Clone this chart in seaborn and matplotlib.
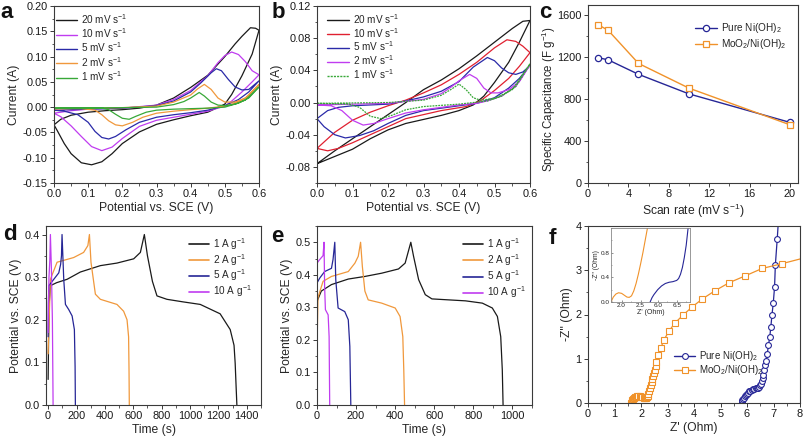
import numpy as np
import matplotlib
matplotlib.use('Agg')
import matplotlib.pyplot as plt
import seaborn as sns
from matplotlib.ticker import MultipleLocator, FixedLocator
from matplotlib.lines import Line2D

sns.set_style('ticks')
plt.rcParams['font.family'] = ['Liberation Sans', 'DejaVu Sans']
plt.rcParams['mathtext.fontset'] = 'custom'
plt.rcParams['mathtext.rm'] = 'Liberation Sans'
plt.rcParams['mathtext.it'] = 'Liberation Sans:italic'
plt.rcParams['mathtext.bf'] = 'Liberation Sans:bold'
plt.rcParams['mathtext.default'] = 'regular'

# ---------------- data: panel a (CV, pure Ni(OH)2) ----------------
a20_x = [0.00,0.02,0.05,0.10,0.15,0.20,0.25,0.30,0.35,0.40,0.45,0.50,0.53,0.55,0.575,0.59,0.60,
         0.58,0.55,0.52,0.50,0.45,0.40,0.35,0.30,0.25,0.20,0.17,0.14,0.11,0.08,0.05,0.03,0.01,0.00]
a20_y = [-0.035,-0.024,-0.016,-0.010,-0.007,-0.005,-0.002,0.004,0.018,0.039,0.063,0.100,0.125,0.140,0.157,0.156,0.152,
         0.105,0.062,0.025,0.006,-0.010,-0.017,-0.025,-0.034,-0.049,-0.072,-0.092,-0.108,-0.114,-0.110,-0.092,-0.072,-0.047,-0.035]
a10_x = [0.00,0.05,0.10,0.20,0.30,0.35,0.40,0.45,0.48,0.50,0.52,0.54,0.56,0.58,0.60,
         0.58,0.55,0.52,0.50,0.45,0.40,0.35,0.30,0.25,0.20,0.17,0.14,0.11,0.08,0.05,0.02,0.00]
a10_y = [-0.012,-0.007,-0.004,-0.002,0.004,0.015,0.033,0.062,0.088,0.102,0.109,0.104,0.090,0.072,0.064,
         0.050,0.030,0.012,0.002,-0.008,-0.014,-0.020,-0.026,-0.038,-0.062,-0.079,-0.086,-0.078,-0.058,-0.037,-0.019,-0.012]
a5_x = [0.00,0.10,0.20,0.30,0.35,0.40,0.43,0.46,0.475,0.49,0.51,0.53,0.55,0.57,0.60,
        0.57,0.54,0.50,0.45,0.40,0.35,0.30,0.25,0.21,0.18,0.16,0.14,0.12,0.10,0.07,0.03,0.00]
a5_y = [-0.006,-0.004,-0.002,0.003,0.012,0.030,0.048,0.068,0.076,0.072,0.055,0.040,0.034,0.035,0.052,
        0.030,0.015,0.003,-0.006,-0.011,-0.015,-0.020,-0.030,-0.045,-0.058,-0.063,-0.060,-0.048,-0.030,-0.015,-0.008,-0.006]
a2_x = [0.00,0.10,0.20,0.30,0.35,0.40,0.42,0.44,0.46,0.48,0.50,0.53,0.56,0.60,
        0.57,0.54,0.50,0.45,0.40,0.35,0.30,0.26,0.23,0.20,0.18,0.16,0.14,0.12,0.08,0.00]
a2_y = [-0.003,-0.002,-0.001,0.002,0.010,0.024,0.036,0.045,0.035,0.018,0.010,0.010,0.018,0.045,
        0.022,0.010,0.002,-0.002,-0.005,-0.008,-0.012,-0.020,-0.030,-0.037,-0.035,-0.027,-0.015,-0.006,-0.003,-0.003]
a1_x = [0.00,0.20,0.30,0.35,0.38,0.40,0.425,0.44,0.46,0.48,0.50,0.53,0.56,0.60,
        0.57,0.54,0.50,0.45,0.40,0.35,0.30,0.27,0.24,0.22,0.20,0.18,0.16,0.14,0.00]
a1_y = [-0.002,-0.001,0.000,0.005,0.011,0.018,0.029,0.022,0.010,0.004,0.003,0.006,0.014,0.040,
        0.018,0.008,0.000,-0.002,-0.003,-0.004,-0.006,-0.010,-0.018,-0.024,-0.022,-0.014,-0.005,-0.002,-0.002]

# ---------------- data: panel b (CV, MoO2/Ni(OH)2) ----------------
b20_x = [0.00,0.05,0.10,0.15,0.20,0.25,0.30,0.35,0.40,0.45,0.50,0.55,0.58,0.60,
         0.57,0.54,0.50,0.47,0.44,0.40,0.35,0.30,0.25,0.20,0.15,0.10,0.05,0.00]
b20_y = [-0.076,-0.060,-0.045,-0.030,-0.015,0.000,0.016,0.028,0.042,0.058,0.075,0.092,0.101,0.102,
         0.075,0.050,0.025,0.008,-0.003,-0.010,-0.016,-0.021,-0.026,-0.034,-0.045,-0.058,-0.067,-0.076]
b10_x = [0.00,0.05,0.10,0.15,0.20,0.25,0.30,0.35,0.40,0.45,0.50,0.535,0.56,0.58,0.60,
         0.57,0.54,0.50,0.46,0.42,0.35,0.30,0.25,0.20,0.15,0.10,0.06,0.03,0.00]
b10_y = [-0.057,-0.037,-0.022,-0.012,-0.004,0.003,0.012,0.022,0.035,0.050,0.068,0.078,0.076,0.070,0.062,
         0.045,0.030,0.015,0.002,-0.005,-0.010,-0.015,-0.020,-0.030,-0.040,-0.050,-0.057,-0.060,-0.057]
b5_x = [0.00,0.03,0.06,0.10,0.20,0.25,0.30,0.35,0.40,0.44,0.48,0.50,0.52,0.54,0.56,0.58,0.60,
        0.57,0.54,0.50,0.45,0.40,0.35,0.30,0.25,0.20,0.16,0.12,0.08,0.05,0.02,0.00]
b5_y = [-0.020,-0.010,-0.006,-0.004,-0.002,0.002,0.007,0.014,0.026,0.044,0.056,0.052,0.043,0.037,0.035,0.038,0.046,
        0.030,0.018,0.006,-0.001,-0.004,-0.007,-0.010,-0.016,-0.026,-0.035,-0.041,-0.044,-0.040,-0.030,-0.020]
b2_x = [0.00,0.20,0.30,0.35,0.38,0.40,0.43,0.45,0.47,0.49,0.51,0.54,0.57,0.60,
        0.56,0.52,0.48,0.45,0.40,0.35,0.30,0.25,0.20,0.16,0.13,0.10,0.07,0.04,0.00]
b2_y = [-0.003,-0.001,0.004,0.011,0.020,0.027,0.035,0.030,0.018,0.012,0.012,0.016,0.026,0.047,
        0.020,0.008,0.002,-0.001,-0.003,-0.006,-0.009,-0.013,-0.020,-0.026,-0.028,-0.022,-0.010,-0.004,-0.003]
b1_x = [0.00,0.20,0.30,0.35,0.38,0.40,0.42,0.44,0.46,0.50,0.55,0.60,
        0.56,0.52,0.48,0.40,0.30,0.25,0.21,0.18,0.15,0.12,0.09,0.00]
b1_y = [-0.001,0.000,0.003,0.009,0.017,0.023,0.016,0.006,0.003,0.005,0.016,0.048,
        0.020,0.008,0.002,-0.002,-0.005,-0.009,-0.016,-0.020,-0.017,-0.006,-0.002,-0.001]

cv_labels = ['20 mV s$^{-1}$', '10 mV s$^{-1}$', '5 mV s$^{-1}$', '2 mV s$^{-1}$', '1 mV s$^{-1}$']

# ---------------- data: panel c (specific capacitance) ----------------
scan_rate = [1, 2, 5, 10, 20]
cap_pure = [1197, 1176, 1038, 851, 579]
cap_mo = [1512, 1458, 1142, 906, 556]

# ---------------- data: panel d (GCD pure) ----------------
d1_t = [0,3,8,16,60,134,227,368,485,603,650,678, 700,735,767,837,950,1072,1212,1283,1310,1318,1325,1330]
d1_v = [0.06,0.15,0.24,0.28,0.287,0.295,0.312,0.327,0.333,0.343,0.358,0.400, 0.350,0.290,0.256,0.248,0.242,0.236,0.214,0.177,0.140,0.098,0.040,0.000]
d2_t = [0,3,7,16,63,180,250,280,291, 302,333,368,485,532,556,567,570,572]
d2_v = [0.12,0.16,0.20,0.295,0.335,0.346,0.358,0.374,0.400, 0.335,0.260,0.248,0.236,0.220,0.200,0.160,0.083,0.000]
d5_t = [0,2,5,40,75,88,94,98, 110,122,145,169,185,190,192]
d5_v = [0.16,0.24,0.280,0.295,0.310,0.330,0.350,0.400, 0.295,0.236,0.224,0.209,0.177,0.090,0.000]
d10_t = [0,3,6,12,16, 23,30,33,35]
d10_v = [0.17,0.25,0.30,0.340,0.400, 0.320,0.200,0.080,0.000]

# ---------------- data: panel e (GCD MoO2/Ni(OH)2) ----------------
e1_t = [0,22,74,160,245,331,417,451,480, 494,520,554,588,760,846,897,923,940,948,952]
e1_v = [0.318,0.350,0.370,0.387,0.395,0.405,0.418,0.436,0.500, 0.457,0.385,0.339,0.326,0.320,0.313,0.298,0.272,0.210,0.108,0.000]
e2_t = [0,5,31,74,160,194,211,223, 232,245,262,331,400,425,439,444,448]
e2_v = [0.17,0.330,0.380,0.395,0.410,0.436,0.457,0.500, 0.426,0.350,0.323,0.313,0.298,0.272,0.210,0.108,0.000]
e5_t = [0,14,39,74,82,91, 96,108,142,160,168,173]
e5_v = [0.375,0.390,0.410,0.420,0.447,0.500, 0.385,0.298,0.287,0.262,0.180,0.000]
e10_t = [0,14,31,36, 39,43,57,62,65]
e10_v = [0.436,0.447,0.459,0.500, 0.364,0.293,0.277,0.210,0.000]

gcd_labels = ['1 A g$^{-1}$', '2 A g$^{-1}$', '5 A g$^{-1}$', '10 A g$^{-1}$']

# ---------------- data: panel f (Nyquist) ----------------
ni_zre = [5.80,5.81,5.83,5.85,5.88,5.91,5.95,5.99,6.03,6.08,6.13,6.18,6.23,6.28,6.33,6.38,6.43,6.47,
          6.50,6.53,6.56,6.59,6.62,6.65,6.68,6.71,6.76,6.81,6.86,6.90,6.94,6.99,7.04,7.07,7.14,7.20]
ni_zim = [0.00,0.03,0.06,0.09,0.12,0.15,0.18,0.21,0.23,0.26,0.28,0.30,0.31,0.32,0.33,0.34,0.35,0.37,
          0.40,0.44,0.49,0.56,0.64,0.74,0.85,0.96,1.10,1.30,1.50,1.72,1.98,2.25,2.62,3.12,3.70,4.25]
mo_zre = [1.64,1.65,1.67,1.70,1.73,1.77,1.81,1.85,1.90,1.95,2.00,2.05,2.10,2.15,2.19,2.22,2.25,2.28,2.31,
          2.34,2.37,2.40,2.43,2.46,2.49,2.52,2.55,2.58,2.64,2.75,2.87,3.05,3.27,3.59,3.93,4.31,4.80,5.33,
          5.92,6.57,7.33,8.10]
mo_zim = [0.00,0.03,0.06,0.09,0.11,0.13,0.14,0.15,0.15,0.15,0.14,0.13,0.12,0.11,0.11,0.13,0.16,0.21,0.27,
          0.33,0.40,0.47,0.54,0.61,0.68,0.75,0.83,0.93,1.08,1.25,1.43,1.62,1.80,1.99,2.17,2.35,2.54,2.72,
          2.87,3.04,3.15,3.27]
ins_mo_zre = [1.72,1.78,1.85,1.92,2.00,2.07,2.14,2.20,2.26,2.32,2.38,2.44,2.50,2.56,2.62,2.68]
ins_mo_zim = [0.00,0.08,0.13,0.15,0.14,0.11,0.08,0.075,0.10,0.18,0.30,0.45,0.62,0.80,1.00,1.20]
ins_ni_zre = [5.80,5.85,5.90,6.00,6.10,6.20,6.30,6.40,6.50,6.55,6.60,6.65,6.70,6.75,6.80]
ins_ni_zim = [0.00,0.07,0.12,0.20,0.26,0.30,0.32,0.33,0.35,0.38,0.45,0.56,0.72,0.92,1.20]
series_labels = ['Pure Ni(OH)$_2$', 'MoO$_2$/Ni(OH)$_2$']

# ---------------- style ----------------
BLACK = '#1a1a1a'
MAG = '#c03cf0'
BLUE = '#2a2aa8'
ORANGE = '#f0983c'
GREEN = '#38a838'
RED = '#e02030'
NAVY = '#262696'
ORG2 = '#f0922a'
FRAME = '#3a3a3a'

W, H = 805, 441
fig = plt.figure(figsize=(W / 100, H / 100), dpi=100)


def add_ax(x0, y0, x1, y1):
    return fig.add_axes([x0 / W, 1 - y1 / H, (x1 - x0) / W, (y1 - y0) / H])


def style(ax, fs=7.9):
    for s in ax.spines.values():
        s.set_visible(True)
        s.set_color(FRAME)
        s.set_linewidth(0.8)
    ax.tick_params(which='major', direction='out', length=3, width=0.7, labelsize=fs, pad=1.5, color=FRAME, labelcolor='#1a1a1a')
    ax.tick_params(which='minor', direction='out', length=1.8, width=0.6, color=FRAME)


def sline(ax, x, y, color, lw=0.9, ls='-', **kw):
    sns.lineplot(x=np.asarray(x, float), y=np.asarray(y, float), sort=False, estimator=None,
                 ax=ax, color=color, lw=lw, linestyle=ls, legend=False, **kw)


def fig_legend(ax, handles, labels, x, y, fs, spacing, hl=2.4):
    ax.legend(handles, labels, loc='upper left', bbox_to_anchor=(x / W, 1 - y / H),
              bbox_transform=fig.transFigure, frameon=False, fontsize=fs, borderpad=0,
              borderaxespad=0, handlelength=hl, handletextpad=0.4, labelspacing=spacing)


LBL = 8.7

# ---- panel a ----
axa = add_ax(54, 6, 259, 183)
cols_a = [BLACK, MAG, BLUE, ORANGE, GREEN]
for (xx, yy), c in zip([(a20_x, a20_y), (a10_x, a10_y), (a5_x, a5_y), (a2_x, a2_y), (a1_x, a1_y)], cols_a):
    sline(axa, xx, yy, c)
axa.set_xlim(0, 0.6)
axa.set_ylim(-0.15, 0.20)
axa.xaxis.set_major_locator(MultipleLocator(0.1))
axa.xaxis.set_minor_locator(MultipleLocator(0.05))
axa.yaxis.set_major_locator(MultipleLocator(0.05))
axa.yaxis.set_minor_locator(MultipleLocator(0.025))
axa.xaxis.set_major_formatter(matplotlib.ticker.FormatStrFormatter('%.1f'))
axa.yaxis.set_major_formatter(matplotlib.ticker.FormatStrFormatter('%.2f'))
axa.set_xlabel('Potential vs. SCE (V)', fontsize=LBL, labelpad=2)
axa.set_ylabel('Current (A)', fontsize=LBL, labelpad=2)
style(axa)
fig_legend(axa, [Line2D([], [], color=c, lw=1) for c in cols_a], cv_labels, 56, 12, 7.2, 0.05, hl=2.1)

# ---- panel b ----
axb = add_ax(317, 6, 530, 183)
cols_b = [BLACK, RED, BLUE, MAG, GREEN]
for (xx, yy), c in zip([(b20_x, b20_y), (b10_x, b10_y), (b5_x, b5_y), (b2_x, b2_y)], cols_b[:4]):
    sline(axb, xx, yy, c)
sline(axb, b1_x, b1_y, GREEN, ls=(0, (1.5, 0.8)))
axb.set_xlim(0, 0.6)
axb.set_ylim(-0.10, 0.12)
axb.xaxis.set_major_locator(MultipleLocator(0.1))
axb.xaxis.set_minor_locator(MultipleLocator(0.05))
axb.yaxis.set_major_locator(FixedLocator([-0.08, -0.04, 0.0, 0.04, 0.08, 0.12]))
axb.yaxis.set_minor_locator(MultipleLocator(0.02))
axb.xaxis.set_major_formatter(matplotlib.ticker.FormatStrFormatter('%.1f'))
axb.yaxis.set_major_formatter(matplotlib.ticker.FormatStrFormatter('%.2f'))
axb.set_xlabel('Potential vs. SCE (V)', fontsize=LBL, labelpad=2)
axb.set_ylabel('Current (A)', fontsize=LBL, labelpad=2)
style(axb)
hb = [Line2D([], [], color=c, lw=1) for c in cols_b[:4]] + [Line2D([], [], color=GREEN, lw=1, ls=(0, (1.5, 0.8)))]
fig_legend(axb, hb, cv_labels, 327, 12, 7.2, 0.0, hl=2.2)

# ---- panel c ----
axc = add_ax(588, 5, 798, 183)
sline(axc, scan_rate, cap_pure, NAVY, lw=1, marker='o', markersize=4.5, markerfacecolor='white',
      markeredgecolor=NAVY, markeredgewidth=0.9)
sline(axc, scan_rate, cap_mo, ORG2, lw=1, marker='s', markersize=4.2, markerfacecolor='white',
      markeredgecolor=ORG2, markeredgewidth=0.9)
axc.set_xlim(0, 20.8)
axc.set_ylim(0, 1700)
axc.xaxis.set_major_locator(MultipleLocator(4))
axc.xaxis.set_minor_locator(MultipleLocator(2))
axc.yaxis.set_major_locator(MultipleLocator(400))
axc.yaxis.set_minor_locator(MultipleLocator(200))
axc.set_xlabel('Scan rate (mV s$^{-1}$)', fontsize=LBL, labelpad=2)
axc.set_ylabel('Specific Capacitance (F g$^{-1}$)', fontsize=8.3, labelpad=2)
axc.yaxis.set_label_coords(-0.145, 0.47)
style(axc)
hc = [Line2D([], [], color=NAVY, lw=1, marker='o', ms=4.5, mfc='white', mec=NAVY, mew=0.9),
      Line2D([], [], color=ORG2, lw=1, marker='s', ms=4.2, mfc='white', mec=ORG2, mew=0.9)]
fig_legend(axc, hc, series_labels, 695, 21, 7.2, 0.2, hl=2.2)

# ---- panel d ----
axd = add_ax(46, 226, 261, 405)
cols_g = [BLACK, ORANGE, NAVY, MAG]
for (xx, yy), c in zip([(d1_t, d1_v), (d2_t, d2_v), (d5_t, d5_v), (d10_t, d10_v)], cols_g):
    sline(axd, xx, yy, c)
axd.set_xlim(-15, 1500)
axd.set_ylim(0, 0.42)
axd.xaxis.set_major_locator(MultipleLocator(200))
axd.xaxis.set_minor_locator(MultipleLocator(100))
axd.yaxis.set_major_locator(MultipleLocator(0.1))
axd.yaxis.set_minor_locator(MultipleLocator(0.05))
axd.yaxis.set_major_formatter(matplotlib.ticker.FormatStrFormatter('%.1f'))
axd.set_xlabel('Time (s)', fontsize=LBL, labelpad=2)
axd.set_ylabel('Potential vs. SCE (V)', fontsize=LBL, labelpad=2)
style(axd)
fig_legend(axd, [Line2D([], [], color=c, lw=1.2) for c in cols_g], gcd_labels, 189, 236, 7.2, 0.0, hl=2.0)

# ---- panel e ----
axe = add_ax(317, 226, 532, 405)
for (xx, yy), c in zip([(e1_t, e1_v), (e2_t, e2_v), (e5_t, e5_v), (e10_t, e10_v)], cols_g):
    sline(axe, xx, yy, c)
axe.set_xlim(0, 1100)
axe.set_ylim(0, 0.55)
axe.xaxis.set_major_locator(MultipleLocator(200))
axe.xaxis.set_minor_locator(MultipleLocator(100))
axe.yaxis.set_major_locator(MultipleLocator(0.1))
axe.yaxis.set_minor_locator(MultipleLocator(0.05))
axe.yaxis.set_major_formatter(matplotlib.ticker.FormatStrFormatter('%.1f'))
axe.set_xlabel('Time (s)', fontsize=LBL, labelpad=2)
axe.set_ylabel('Potential vs. SCE (V)', fontsize=LBL, labelpad=2)
style(axe)
fig_legend(axe, [Line2D([], [], color=c, lw=1.2) for c in cols_g], gcd_labels, 463, 236, 7.2, 0.03, hl=2.0)

# ---- panel f ----
axf = add_ax(588, 226, 800, 403)
sline(axf, ni_zre, ni_zim, NAVY, lw=0.9, marker='o', markersize=4.2, markerfacecolor='white',
      markeredgecolor=NAVY, markeredgewidth=0.8)
sline(axf, mo_zre, mo_zim, ORG2, lw=0.9, marker='s', markersize=3.8, markerfacecolor='white',
      markeredgecolor=ORG2, markeredgewidth=0.8)
axf.set_xlim(0, 8)
axf.set_ylim(0, 4)
axf.xaxis.set_major_locator(MultipleLocator(1))
axf.xaxis.set_minor_locator(MultipleLocator(0.5))
axf.yaxis.set_major_locator(MultipleLocator(1))
axf.yaxis.set_minor_locator(MultipleLocator(0.5))
axf.set_xlabel("Z' (Ohm)", fontsize=LBL, labelpad=2)
axf.set_ylabel("-Z'' (Ohm)", fontsize=LBL, labelpad=2)
style(axf)
hf = [Line2D([], [], color=NAVY, lw=1, marker='o', ms=4.2, mfc='white', mec=NAVY, mew=0.8),
      Line2D([], [], color=ORG2, lw=1, marker='s', ms=3.8, mfc='white', mec=ORG2, mew=0.8)]
fig_legend(axf, hf, series_labels, 674, 349, 7.0, 0.0, hl=2.2)

# inset with broken axis
OFF = 3.05


def fwd(x):
    x = np.asarray(x, float)
    return np.where(x <= 2.75, x, np.where(x >= 5.8, x - OFF, 2.75))


def inv(y):
    y = np.asarray(y, float)
    return np.where(y <= 2.75, y, y + OFF)


axi = add_ax(611, 228, 690, 302)
axi.set_xscale('function', functions=(fwd, inv))
sline(axi, ins_mo_zre, ins_mo_zim, ORG2, lw=0.8)
sline(axi, ins_ni_zre, ins_ni_zim, NAVY, lw=0.8)
axi.set_xlim(1.72, 6.85)
axi.set_ylim(0, 1.2)
axi.xaxis.set_major_locator(FixedLocator([2.0, 2.5, 6.0, 6.5]))
axi.xaxis.set_minor_locator(FixedLocator([1.75, 2.25, 5.75, 6.25, 6.75]))
axi.xaxis.set_major_formatter(matplotlib.ticker.FormatStrFormatter('%.1f'))
axi.yaxis.set_major_locator(FixedLocator([0.0, 0.4, 0.8]))
axi.yaxis.set_minor_locator(MultipleLocator(0.2))
axi.yaxis.set_major_formatter(matplotlib.ticker.FormatStrFormatter('%.1f'))
for s in axi.spines.values():
    s.set_color('#888888')
    s.set_linewidth(0.6)
axi.tick_params(which='major', direction='in', length=1.5, width=0.5, labelsize=4.6, pad=1, color='#666666')
axi.tick_params(which='minor', direction='in', length=1, width=0.4, color='#666666')
axi.set_xlabel("Z' (Ohm)", fontsize=5, labelpad=0.5)
axi.set_ylabel("-Z'' (Ohm)", fontsize=4.8, labelpad=0.5)
axi.set_facecolor('white')

# panel letters
for ch, (px, py) in zip('abcdef', [(7, 13), (278, 12), (545, 12), (10, 235), (277, 236), (552, 238)]):
    fig.text(px / W, 1 - py / H, ch, fontsize=16, fontweight='bold', ha='center', va='center', color='#111111')

fig.savefig('out.png', dpi=100)
